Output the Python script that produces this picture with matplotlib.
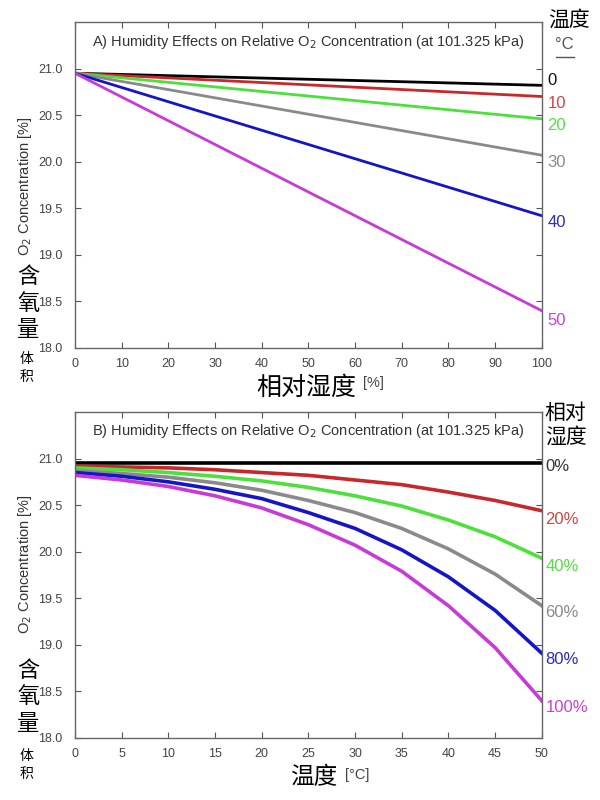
import matplotlib
matplotlib.use("Agg")
import matplotlib.pyplot as plt
from matplotlib.lines import Line2D

plt.rcParams['font.family'] = ['Liberation Sans', 'Noto Sans CJK SC', 'DejaVu Sans']

# ---- data: panel A (O2 vs relative humidity, one line per temperature) ----
rh_ends = [0, 100]
temps_a = ["0", "10", "20", "30", "40", "50"]
o2_start_a = 20.95
o2_end_a = [20.82, 20.70, 20.46, 20.07, 19.42, 18.40]

# ---- data: panel B (O2 vs temperature, one line per relative humidity) ----
temp_b = [0, 5, 10, 15, 20, 25, 30, 35, 40, 45, 50]
rh_labels_b = ["0%", "20%", "40%", "60%", "80%", "100%"]
o2_b = [
    [20.95, 20.95, 20.95, 20.95, 20.95, 20.95, 20.95, 20.95, 20.95, 20.95, 20.95],
    [20.92, 20.91, 20.90, 20.88, 20.85, 20.82, 20.77, 20.72, 20.64, 20.55, 20.44],
    [20.90, 20.88, 20.85, 20.81, 20.76, 20.69, 20.60, 20.49, 20.34, 20.16, 19.93],
    [20.87, 20.84, 20.80, 20.74, 20.66, 20.55, 20.42, 20.25, 20.03, 19.76, 19.42],
    [20.85, 20.81, 20.75, 20.67, 20.57, 20.42, 20.25, 20.02, 19.73, 19.37, 18.91],
    [20.82, 20.77, 20.70, 20.60, 20.47, 20.29, 20.07, 19.79, 19.42, 18.97, 18.40],
]

line_colors = ["#000000", "#c8282a", "#4ce03a", "#8a8a8a", "#1414c8", "#c83ad8"]
label_colors = ["#111111", "#d04545", "#55dd44", "#8a8a8a", "#2a2ac8", "#c840d8"]
label_colors_b = ["#333333", "#d04545", "#55dd44", "#8a8a8a", "#2a2ac8", "#c840d8"]
# label y positions (layout only)
label_y_a = [20.87, 20.62, 20.39, 19.99, 19.35, 18.30]
label_y_b = [20.91, 20.35, 19.84, 19.35, 18.84, 18.33]

title = "Humidity Effects on Relative O$_2$ Concentration (at 101.325 kPa)"
cjk = 'Noto Sans CJK SC'
tick_col = "#444444"

fig = plt.figure(figsize=(6, 8), dpi=100)
ax_a = fig.add_axes([0.125, 0.565, 0.778, 0.4075])
ax_b = fig.add_axes([0.125, 0.0775, 0.778, 0.4075])


def style_axis(ax):
    ax.set_ylim(18.0, 21.5)
    ax.set_yticks([18.0, 18.5, 19.0, 19.5, 20.0, 20.5, 21.0])
    ax.set_yticklabels(["18.0", "18.5", "19.0", "19.5", "20.0", "20.5", "21.0"])
    ax.tick_params(direction="in", top=True, right=True, length=4,
                   width=0.8, colors="#555555", labelcolor=tick_col,
                   labelsize=9)
    ax.tick_params(axis="y", pad=9)
    ax.tick_params(axis="x", pad=7)
    for s in ax.spines.values():
        s.set_color("#666666")
        s.set_linewidth(1.0)


# Panel A
for i in range(len(temps_a)):
    ax_a.plot(rh_ends, [o2_start_a, o2_end_a[i]], color=line_colors[i], lw=2.0)
    ax_a.annotate(temps_a[i], xy=(1.012, label_y_a[i]),
                  xycoords=("axes fraction", "data"),
                  color=label_colors[i], fontsize=12, va="center", ha="left",
                  annotation_clip=False)
ax_a.set_xlim(0, 100)
ax_a.set_xticks(range(0, 101, 10))
style_axis(ax_a)
ax_a.text(0.5, 0.938, "A) " + title, transform=ax_a.transAxes,
          ha="center", va="center", fontsize=10.5, color="#333333")

# Panel B
for i in range(len(rh_labels_b)):
    ax_b.plot(temp_b, o2_b[i], color=line_colors[i], lw=2.6)
    ax_b.annotate(rh_labels_b[i], xy=(1.008, label_y_b[i]),
                  xycoords=("axes fraction", "data"),
                  color=label_colors_b[i], fontsize=12, va="center", ha="left",
                  annotation_clip=False)
ax_b.set_xlim(0, 50)
ax_b.set_xticks(range(0, 51, 5))
style_axis(ax_b)
ax_b.text(0.5, 0.943, "B) " + title, transform=ax_b.transAxes,
          ha="center", va="center", fontsize=10.5, color="#333333")

# Y labels (English + Chinese)
for yc, yq, yv in [(0.7675, 0.621, 0.54), (0.295, 0.129, 0.044)]:
    fig.text(0.042, yc, "O$_2$ Concentration [%]", rotation=90,
             ha="center", va="center", fontsize=10.5, color="#333333")
    fig.text(0.047, yq, "含\n氧\n量", family=[cjk], ha="center", va="center",
             fontsize=16, linespacing=1.2)
    fig.text(0.045, yv, "体\n积", family=[cjk], ha="center", va="center",
             fontsize=10, linespacing=1.4)

# X labels
fig.text(0.51, 0.515, "相对湿度", family=[cjk], ha="center", va="center",
         fontsize=18)
fig.text(0.605, 0.521, "[%]", ha="left", va="center", fontsize=10.5,
         color="#444444")
fig.text(0.523, 0.0275, "温度", family=[cjk], ha="center", va="center",
         fontsize=17)
fig.text(0.575, 0.031, "[°C]", ha="left", va="center", fontsize=10.5,
         color="#444444")

# Right headers
fig.text(0.913, 0.975, "温度", family=[cjk], ha="left", va="center", fontsize=15)
fig.text(0.925, 0.944, "°C", ha="left", va="center", fontsize=12, color="#555555")
fig.add_artist(Line2D([0.927, 0.957], [0.929, 0.929], color="#555555",
                      lw=1.0, transform=fig.transFigure))
fig.text(0.908, 0.469, "相对\n湿度", family=[cjk], ha="left", va="center",
         fontsize=15, linespacing=1.1)

fig.savefig("out.png", dpi=100)
